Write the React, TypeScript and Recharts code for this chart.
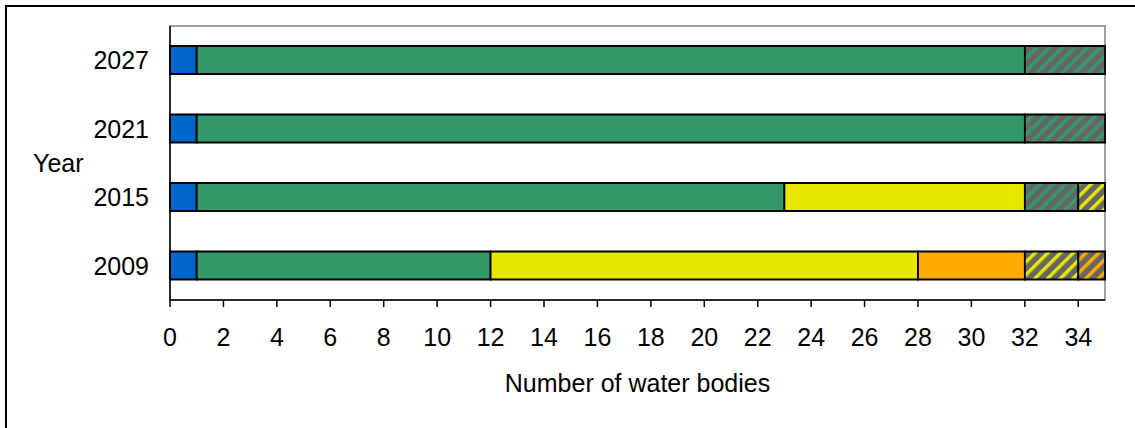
import React from 'react';
import { BarChart, Bar, XAxis, YAxis, ReferenceArea } from 'recharts';

const years = ['2027', '2021', '2015', '2009'];
const high = [1, 1, 1, 1];
const good = [31, 31, 22, 11];
const moderate = [0, 0, 9, 16];
const poor = [0, 0, 0, 4];
const goodAtRisk = [3, 3, 2, 0];
const moderateAtRisk = [0, 0, 1, 2];
const poorAtRisk = [0, 0, 0, 1];
const xTicks = [0, 2, 4, 6, 8, 10, 12, 14, 16, 18, 20, 22, 24, 26, 28, 30, 32, 34];

const data = years.map((year, i) => ({
  year,
  high: high[i],
  good: good[i],
  moderate: moderate[i],
  poor: poor[i],
  goodAtRisk: goodAtRisk[i],
  moderateAtRisk: moderateAtRisk[i],
  poorAtRisk: poorAtRisk[i],
}));

const BLUE = '#0066CC';
const GREEN = '#33996A';
const YELLOW = '#E6E600';
const ORANGE = '#FFAA00';
const GRAY = '#666666';
const FONT = 'Liberation Sans, Arial, sans-serif';

const tickStyle = { fill: '#000', fontSize: 25, fontFamily: FONT };

function Hatch({ id, color }: { id: string; color: string }) {
  return (
    <pattern id={id} patternUnits="userSpaceOnUse" width={9} height={9} patternTransform="rotate(45)">
      <rect x={0} y={0} width={9} height={9} fill={GRAY} />
      <rect x={0} y={0} width={3.5} height={9} fill={color} />
    </pattern>
  );
}

export default function App() {
  return (
    <div style={{ position: 'absolute', left: 0, top: 0, width: 1135, height: 428, overflow: 'hidden', background: '#fff' }}>
      <div
        style={{
          position: 'absolute',
          left: 5,
          top: 5,
          width: 1300,
          height: 600,
          border: '2px solid #000',
          boxSizing: 'border-box',
        }}
      />
      <div style={{ position: 'absolute', left: 0, top: 0 }}>
        <BarChart
          width={1135}
          height={428}
          data={data}
          layout="vertical"
          margin={{ top: 26, right: 30, bottom: 33, left: 0 }}
          barSize={28}
        >
          <defs>
            <Hatch id="hatchGreen" color={GREEN} />
            <Hatch id="hatchYellow" color={YELLOW} />
            <Hatch id="hatchOrange" color={ORANGE} />
          </defs>
          <ReferenceArea
            x1={0}
            x2={35}
            ifOverflow="visible"
            fill="none"
            fillOpacity={0}
            stroke="#A0A0A0"
            strokeWidth={2}
          />
          <XAxis
            type="number"
            domain={[0, 35]}
            ticks={xTicks}
            interval={0}
            tickSize={7}
            tickMargin={21}
            height={95}
            axisLine={{ stroke: '#000', strokeWidth: 1.5 }}
            tickLine={{ stroke: '#000', strokeWidth: 1.5 }}
            tick={tickStyle}
            label={{ value: 'Number of water bodies', position: 'insideBottom', offset: 3, fill: '#000', fontSize: 25, fontFamily: FONT }}
          />
          <YAxis
            type="category"
            dataKey="year"
            width={170}
            tickLine={false}
            tickSize={0}
            tickMargin={21}
            axisLine={{ stroke: '#000', strokeWidth: 1.5 }}
            tick={tickStyle}
            label={{ value: 'Year', position: 'insideLeft', offset: 33, fill: '#000', fontSize: 25, fontFamily: FONT }}
          />
          <Bar dataKey="high" stackId="a" fill={BLUE} stroke="#000" strokeWidth={1.8} isAnimationActive={false} />
          <Bar dataKey="good" stackId="a" fill={GREEN} stroke="#000" strokeWidth={1.8} isAnimationActive={false} />
          <Bar dataKey="moderate" stackId="a" fill={YELLOW} stroke="#000" strokeWidth={1.8} isAnimationActive={false} />
          <Bar dataKey="poor" stackId="a" fill={ORANGE} stroke="#000" strokeWidth={1.8} isAnimationActive={false} />
          <Bar dataKey="goodAtRisk" stackId="a" fill="url(#hatchGreen)" stroke="#000" strokeWidth={1.8} isAnimationActive={false} />
          <Bar dataKey="moderateAtRisk" stackId="a" fill="url(#hatchYellow)" stroke="#000" strokeWidth={1.8} isAnimationActive={false} />
          <Bar dataKey="poorAtRisk" stackId="a" fill="url(#hatchOrange)" stroke="#000" strokeWidth={1.8} isAnimationActive={false} />
        </BarChart>
      </div>
    </div>
  );
}
